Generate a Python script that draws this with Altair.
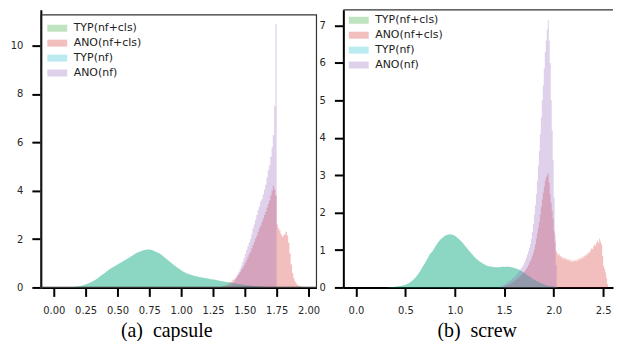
import altair as alt
import pandas as pd

series_names = ["TYP(nf+cls)", "ANO(nf+cls)", "TYP(nf)", "ANO(nf)"]
series_colors = ["#2ca02c", "#d62728", "#17becf", "#9467bd"]

# ---------------- capsule ----------------
cap_typ_start, cap_typ_step = 0.10, 0.025
cap_typ = [0.00, 0.01, 0.02, 0.03, 0.05, 0.08, 0.12, 0.17, 0.24, 0.31,
           0.40, 0.50, 0.60, 0.70, 0.79, 0.87, 0.95, 1.02, 1.10, 1.18,
           1.26, 1.34, 1.42, 1.48, 1.53, 1.56, 1.57, 1.54, 1.48, 1.42,
           1.33, 1.22, 1.11, 1.00, 0.90, 0.80, 0.71, 0.63, 0.57, 0.52,
           0.48, 0.45, 0.42, 0.40, 0.38, 0.35, 0.33, 0.31, 0.28, 0.26,
           0.23, 0.21, 0.18, 0.16, 0.14, 0.12, 0.10, 0.09, 0.07, 0.06,
           0.05, 0.04, 0.03, 0.02, 0.015, 0.01, 0.0]

cap_ano_cls_start, cap_ano_cls_step = 1.30, 0.01
cap_ano_cls = [0.02, 0.03, 0.05, 0.06, 0.08, 0.10, 0.13, 0.16, 0.20, 0.24,
               0.29, 0.33, 0.38, 0.44, 0.50, 0.57, 0.63, 0.72, 0.80, 0.92,
               1.02, 1.12, 1.25, 1.38, 1.48, 1.62, 1.75, 1.88, 2.02, 2.15,
               2.30, 2.45, 2.55, 2.70, 2.85, 3.00, 3.12, 3.30, 3.45, 3.60,
               3.80, 4.00, 4.20, 4.05, 3.80, 2.60, 2.45, 2.35, 2.20, 2.10,
               2.15, 2.20, 2.30, 2.15, 1.85, 1.40, 0.95, 0.60, 0.38, 0.25,
               0.16, 0.10, 0.07, 0.05, 0.03, 0.02]

cap_ano_nf_start, cap_ano_nf_step = 1.36, 0.01
cap_ano_nf = [0.03, 0.05, 0.08, 0.11, 0.16, 0.22, 0.30, 0.40, 0.52, 0.65,
              0.78, 0.90, 1.05, 1.22, 1.38, 1.55, 1.70, 1.85, 2.00, 2.20,
              2.45, 2.60, 2.80, 3.00, 3.20, 3.35, 3.55, 3.65, 3.85, 4.05,
              4.25, 4.55, 4.85, 5.05, 5.40, 5.80, 6.30, 7.50, 10.9]

# ---------------- screw ----------------
scr_typ_start, scr_typ_step = 0.30, 0.025
scr_typ = [0.00, 0.005, 0.01, 0.015, 0.02, 0.03, 0.04, 0.055, 0.07, 0.10,
           0.14, 0.19, 0.26, 0.34, 0.44, 0.55, 0.66, 0.78, 0.90, 0.97,
           1.08, 1.18, 1.27, 1.33, 1.38, 1.41, 1.42, 1.41, 1.38, 1.33,
           1.27, 1.20, 1.12, 1.04, 0.96, 0.89, 0.81, 0.75, 0.69, 0.65,
           0.61, 0.58, 0.56, 0.55, 0.54, 0.54, 0.54, 0.55, 0.55, 0.55,
           0.55, 0.54, 0.52, 0.50, 0.47, 0.43, 0.39, 0.34, 0.30, 0.25,
           0.21, 0.17, 0.14, 0.11, 0.08, 0.06, 0.04, 0.03, 0.02, 0.01, 0.0]

scr_ano_cls_start, scr_ano_cls_step = 1.50, 0.01
scr_ano_cls = [0.03, 0.04, 0.05, 0.06, 0.07, 0.08, 0.10, 0.11, 0.13, 0.15,
               0.17, 0.19, 0.21, 0.23, 0.25, 0.28, 0.30, 0.33, 0.36, 0.39,
               0.42, 0.46, 0.50, 0.55, 0.60, 0.65, 0.71, 0.77, 0.85, 0.93,
               1.02, 1.15, 1.30, 1.45, 1.60, 1.75, 1.95, 2.15, 2.35, 2.53,
               2.70, 2.85, 2.95, 3.00, 3.05, 2.80, 2.50, 2.25, 2.05, 1.83,
               1.50, 1.20, 0.98, 0.92, 0.86, 0.90, 0.82, 0.85, 0.78, 0.80,
               0.76, 0.80, 0.74, 0.77, 0.72, 0.76, 0.70, 0.74, 0.68, 0.73,
               0.70, 0.74, 0.69, 0.75, 0.72, 0.78, 0.74, 0.80, 0.77, 0.83,
               0.80, 0.86, 0.84, 0.90, 0.88, 0.95, 0.93, 1.00, 1.05, 1.02,
               1.10, 1.15, 1.12, 1.20, 1.25, 1.18, 1.30, 1.22, 1.15, 0.85,
               0.58, 0.50, 0.40, 0.25, 0.10]

scr_ano_nf_start, scr_ano_nf_step = 1.45, 0.01
scr_ano_nf = [0.02, 0.03, 0.04, 0.05, 0.06, 0.08, 0.09, 0.11, 0.13, 0.15,
              0.17, 0.19, 0.22, 0.24, 0.26, 0.28, 0.31, 0.34, 0.38, 0.41,
              0.45, 0.48, 0.52, 0.56, 0.60, 0.65, 0.72, 0.80, 0.88, 0.97,
              1.06, 1.16, 1.30, 1.48, 1.70, 1.95, 2.20, 2.50, 2.85, 3.25,
              3.65, 4.10, 4.55, 5.00, 5.40, 5.85, 6.30, 6.60, 6.90, 7.15,
              6.60, 6.00, 5.00, 4.20, 3.40, 2.40, 1.40, 0.60]


def make_df(start, step, values, name):
    xs = [round(start + i * step, 4) for i in range(len(values) + 1)]
    ys = list(values) + [0.0]
    return pd.DataFrame({"x": xs, "y": ys, "series": name})


legend_shape = "M-2.86,-1H2.86V1H-2.86Z"


def panel(series, xdom, ydom, xticks, yticks, xfmt, title, tx, w, h, lx, ly, frame):
    color_scale = alt.Scale(domain=series_names, range=series_colors)
    layers = []
    for df, interp in series:
        layers.append(
            alt.Chart(df).mark_area(interpolate=interp, opacity=0.3).encode(
                x=alt.X("x:Q", scale=alt.Scale(domain=xdom, nice=False, zero=False),
                        axis=alt.Axis(values=xticks, format=xfmt, title=title, titleX=tx,
                                      labelOverlap=False, labelFlush=False)),
                y=alt.Y("y:Q", scale=alt.Scale(domain=ydom, nice=False),
                        axis=alt.Axis(values=yticks, format="d", labelOverlap=False,
                                      labelFlush=False), title=None),
                color=alt.Color("series:N", scale=color_scale,
                                legend=alt.Legend(title=None, orient="none",
                                                  legendX=lx, legendY=ly, padding=0,
                                                  symbolType=legend_shape, symbolSize=49,
                                                  symbolOpacity=0.3, symbolStrokeWidth=0,
                                                  labelFont="DejaVu Sans", labelFontSize=11,
                                                  labelColor="#222222", labelOffset=11,
                                                  rowPadding=3)),
            )
        )
    layers.append(frame)
    return alt.layer(*layers).properties(width=w, height=h)


one = pd.DataFrame({"k": [0]})
W1, W2, H = 277, 271, 279

frame1 = alt.Chart(one).mark_rect(fill="transparent", stroke="#333333", strokeWidth=1.2).encode(
    x=alt.value(0), x2=alt.value(W1), y=alt.value(5), y2=alt.value(H))
frame2 = alt.Chart(one).mark_rule(color="#333333", strokeWidth=1.2).encode(
    x=alt.value(0), x2=alt.value(W2), y=alt.value(0))

cap_series = [
    (make_df(cap_typ_start, cap_typ_step, cap_typ, series_names[0]), "linear"),
    (make_df(cap_ano_cls_start, cap_ano_cls_step, cap_ano_cls, series_names[1]), "step-after"),
    (make_df(cap_typ_start, cap_typ_step, cap_typ, series_names[2]), "linear"),
    (make_df(cap_ano_nf_start, cap_ano_nf_step, cap_ano_nf, series_names[3]), "step-after"),
]
scr_series = [
    (make_df(scr_typ_start, scr_typ_step, scr_typ, series_names[0]), "linear"),
    (make_df(scr_ano_cls_start, scr_ano_cls_step, scr_ano_cls, series_names[1]), "step-after"),
    (make_df(scr_typ_start, scr_typ_step, scr_typ, series_names[2]), "linear"),
    (make_df(scr_ano_nf_start, scr_ano_nf_step, scr_ano_nf, series_names[3]), "step-after"),
]

p1 = panel(cap_series, [-0.1016, 2.0625], [0, 11.48],
           [0, 0.25, 0.5, 0.75, 1.0, 1.25, 1.5, 1.75, 2.0], [0, 2, 4, 6, 8, 10],
           ".2f", "(a)\u00a0 capsule", 126, W1, H, 11, 13, frame1)
p2 = panel(scr_series, [-0.128, 2.6], [0, 7.42],
           [0, 0.5, 1.0, 1.5, 2.0, 2.5], [0, 1, 2, 3, 4, 5, 6, 7],
           ".1f", "(b)\u00a0 screw", 134, W2, H, 10, 5, frame2)

chart = alt.hconcat(p1, p2, spacing=27, bounds="flush").resolve_scale(
    color="independent").resolve_legend(color="independent").properties(
    padding={"left": 2, "top": 0, "right": 0, "bottom": 0}
).configure_view(strokeWidth=0).configure_axis(
    domainColor="black", domainWidth=2, tickColor="black", tickWidth=2, tickSize=9,
    labelPadding=9, labelFont="DejaVu Sans", labelFontSize=10, labelColor="#262626",
    grid=False, zindex=1, titleFont="Liberation Serif", titleFontSize=20,
    titleFontWeight="normal", titleColor="black", titlePadding=5,
)

chart.save("out.html", embed_options={"renderer": "svg", "actions": False})
